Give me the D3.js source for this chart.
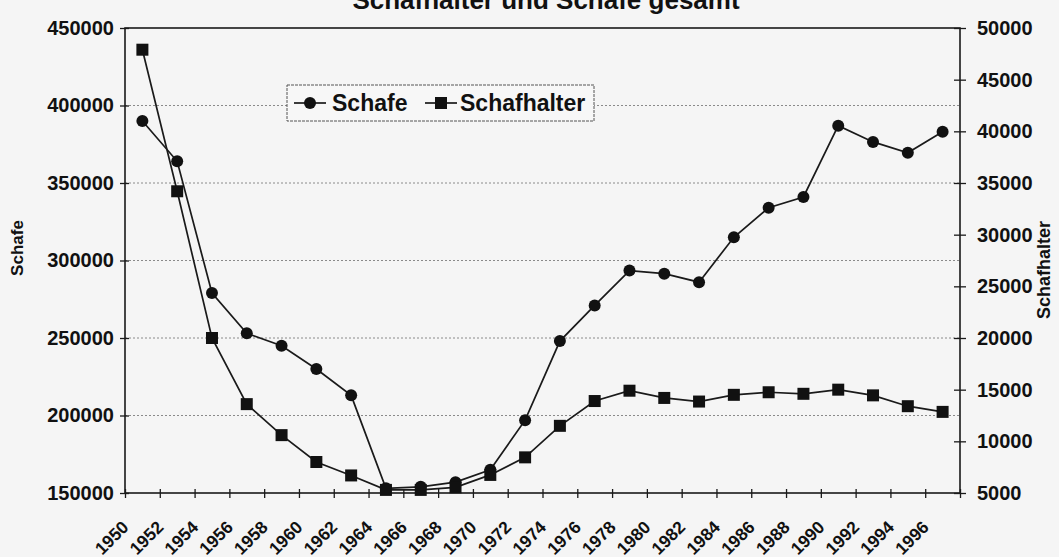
<!DOCTYPE html>
<html>
<head>
<meta charset="utf-8">
<script src="https://cdn.jsdelivr.net/npm/d3@7"></script>
<style>
  html, body { margin: 0; padding: 0; background: #f5f5f5; overflow: hidden; }
  svg { display: block; font-family: Arial, "Liberation Sans", sans-serif; font-weight: bold; }
</style>
</head>
<body>
<svg id="chart" width="1059" height="557"></svg>
<script>
// data (one point per category)
const years = ["1950","1952","1954","1956","1958","1960","1962","1964","1966","1968","1970","1972",
               "1974","1976","1978","1980","1982","1984","1986","1988","1990","1992","1994","1996"];
const schafe = [390000, 364000, 279000, 253000, 245000, 230000, 213000, 153000, 154000, 157000, 165000, 197000,
                248000, 271000, 293500, 291500, 286000, 315000, 334000, 341000, 387000, 376500, 369500, 383000];
const schafhalter = [47900, 34200, 20000, 13600, 10600, 8000, 6700, 5300, 5300, 5550, 6750, 8450,
                     11500, 13900, 14900, 14200, 13850, 14500, 14750, 14600, 15000, 14450, 13400, 12850];
const leftTicks = [150000, 200000, 250000, 300000, 350000, 400000, 450000];
const rightTicks = [5000, 10000, 15000, 20000, 25000, 30000, 35000, 40000, 45000, 50000];

const width = 1059;
const height = 557;
const margin = {top: 28, right: 99, bottom: 64, left: 125};
const innerWidth = width - margin.left - margin.right;
const innerHeight = height - margin.top - margin.bottom;

const svg = d3.select('svg#chart');

const graph = svg.append('g')
  .attr('transform', `translate(${margin.left}, ${margin.top})`);

// scales
const x = d3.scaleBand()
  .domain(years)
  .range([0, innerWidth]);

// plain index scale, only used for the tick marks between categories
const xIdx = d3.scaleLinear()
  .domain([0, years.length])
  .range([0, innerWidth]);

const yL = d3.scaleLinear()
  .domain([150000, 450000])
  .range([innerHeight, 0]);

const yR = d3.scaleLinear()
  .domain([5000, 50000])
  .range([innerHeight, 0]);

// d3 axes put font attrs on the group; drop them so the svg font applies
function cleanAxis(g) {
  g.attr('font-size', null).attr('font-family', null);
  g.select('.domain').remove();
}

// dotted gridlines on the left axis values
graph.append('g')
  .selectAll('line')
  .data(leftTicks.slice(1, -1))
  .enter()
  .append('line')
    .attr('x1', 0)
    .attr('x2', innerWidth)
    .attr('y1', d => yL(d))
    .attr('y2', d => yL(d))
    .style('stroke', '#8a8a8a')
    .style('stroke-width', 1)
    .style('stroke-dasharray', '2,2');

// plot border
graph.append('rect')
  .attr('width', innerWidth)
  .attr('height', innerHeight)
  .style('fill', 'none')
  .style('stroke', '#1a1a1a')
  .style('stroke-width', 1.6);

// left axis
const gYLeft = graph.append('g')
  .call(d3.axisLeft(yL).tickValues(leftTicks).tickSize(5).tickPadding(6).tickFormat(d3.format('d')));
cleanAxis(gYLeft);
gYLeft.selectAll('.tick line').attr('x1', 4).style('stroke', '#1a1a1a').style('stroke-width', 1.3);
gYLeft.selectAll('text').attr('font-size', 20).style('fill', '#111');

// right axis
const gYRight = graph.append('g')
  .attr('transform', `translate(${innerWidth}, 0)`)
  .call(d3.axisRight(yR).tickValues(rightTicks).tickSize(6).tickPadding(11).tickFormat(d3.format('d')));
cleanAxis(gYRight);
gYRight.selectAll('.tick line').attr('x1', -6).style('stroke', '#1a1a1a').style('stroke-width', 1.3);
gYRight.selectAll('text').attr('font-size', 20).style('fill', '#111');

// x tick marks between categories (no labels here)
const gXTicks = graph.append('g')
  .attr('transform', `translate(0, ${innerHeight})`)
  .call(d3.axisBottom(xIdx).tickValues(d3.range(years.length + 1)).tickSize(5));
cleanAxis(gXTicks);
gXTicks.selectAll('text').remove();
gXTicks.selectAll('.tick line').attr('y1', -4).style('stroke', '#1a1a1a').style('stroke-width', 1.3);

// x labels, rotated
const gXAxis = graph.append('g')
  .attr('transform', `translate(0, ${innerHeight})`)
  .call(d3.axisBottom(x).tickSize(0));
cleanAxis(gXAxis);
gXAxis.attr('text-anchor', 'end');
gXAxis.selectAll('text')
  .attr('x', 0)
  .attr('y', 0)
  .attr('dy', '0.35em')
  .attr('text-anchor', 'end')
  .attr('font-size', 17.5)
  .style('fill', '#111')
  .attr('transform', 'translate(-17, 31) rotate(-45)');

const cx = d => x(d) + x.bandwidth() / 2;

// Schafe line (left axis)
graph.append('path')
  .datum(schafe)
  .attr('d', d3.line().x((d, i) => cx(years[i])).y(d => yL(d)))
  .style('fill', 'none')
  .style('stroke', '#1a1a1a')
  .style('stroke-width', 1.7);

// Schafhalter line (right axis)
graph.append('path')
  .datum(schafhalter)
  .attr('d', d3.line().x((d, i) => cx(years[i])).y(d => yR(d)))
  .style('fill', 'none')
  .style('stroke', '#1a1a1a')
  .style('stroke-width', 1.7);

graph.selectAll('circle.schafe')
  .data(schafe)
  .enter()
  .append('circle')
    .attr('class', 'schafe')
    .attr('cx', (d, i) => cx(years[i]))
    .attr('cy', d => yL(d))
    .attr('r', 6)
    .style('fill', '#111');

graph.selectAll('rect.halter')
  .data(schafhalter)
  .enter()
  .append('rect')
    .attr('class', 'halter')
    .attr('x', (d, i) => cx(years[i]) - 6)
    .attr('y', d => yR(d) - 6)
    .attr('width', 12)
    .attr('height', 12)
    .style('fill', '#111');

// legend
const legend = svg.append('g')
  .attr('transform', 'translate(287, 85)');
legend.append('rect')
  .attr('width', 307)
  .attr('height', 36)
  .style('fill', '#f7f7f7')
  .style('stroke', '#555')
  .style('stroke-width', 1)
  .style('stroke-dasharray', '3,1');

const legendItems = [
  {name: 'Schafe', x: 7, text: 45, shape: 'circle'},
  {name: 'Schafhalter', x: 138, text: 173, shape: 'square'}
];
legendItems.forEach(it => {
  legend.append('line')
    .attr('x1', it.x).attr('x2', it.x + 32)
    .attr('y1', 18).attr('y2', 18)
    .style('stroke', '#1a1a1a').style('stroke-width', 1.7);
  if (it.shape === 'circle') {
    legend.append('circle').attr('cx', it.x + 16).attr('cy', 18).attr('r', 6).style('fill', '#111');
  } else {
    legend.append('rect').attr('x', it.x + 10).attr('y', 12).attr('width', 12).attr('height', 12).style('fill', '#111');
  }
  legend.append('text')
    .attr('x', it.text)
    .attr('y', 18)
    .attr('dy', '0.35em')
    .attr('font-size', 23)
    .style('fill', '#111')
    .text(it.name);
});

// titles (the scan cuts the main title at the top edge)
svg.append('text')
  .attr('x', 546)
  .attr('y', 8.5)
  .attr('text-anchor', 'middle')
  .attr('font-size', 26)
  .style('fill', '#111')
  .text('Schafhalter und Schafe gesamt');

svg.append('text')
  .attr('transform', 'translate(23, 248) rotate(-90)')
  .attr('text-anchor', 'middle')
  .attr('font-size', 17)
  .style('fill', '#111')
  .text('Schafe');

svg.append('text')
  .attr('transform', 'translate(1050, 270) rotate(-90)')
  .attr('text-anchor', 'middle')
  .attr('font-size', 18)
  .style('fill', '#111')
  .text('Schafhalter');
</script>
</body>
</html>
